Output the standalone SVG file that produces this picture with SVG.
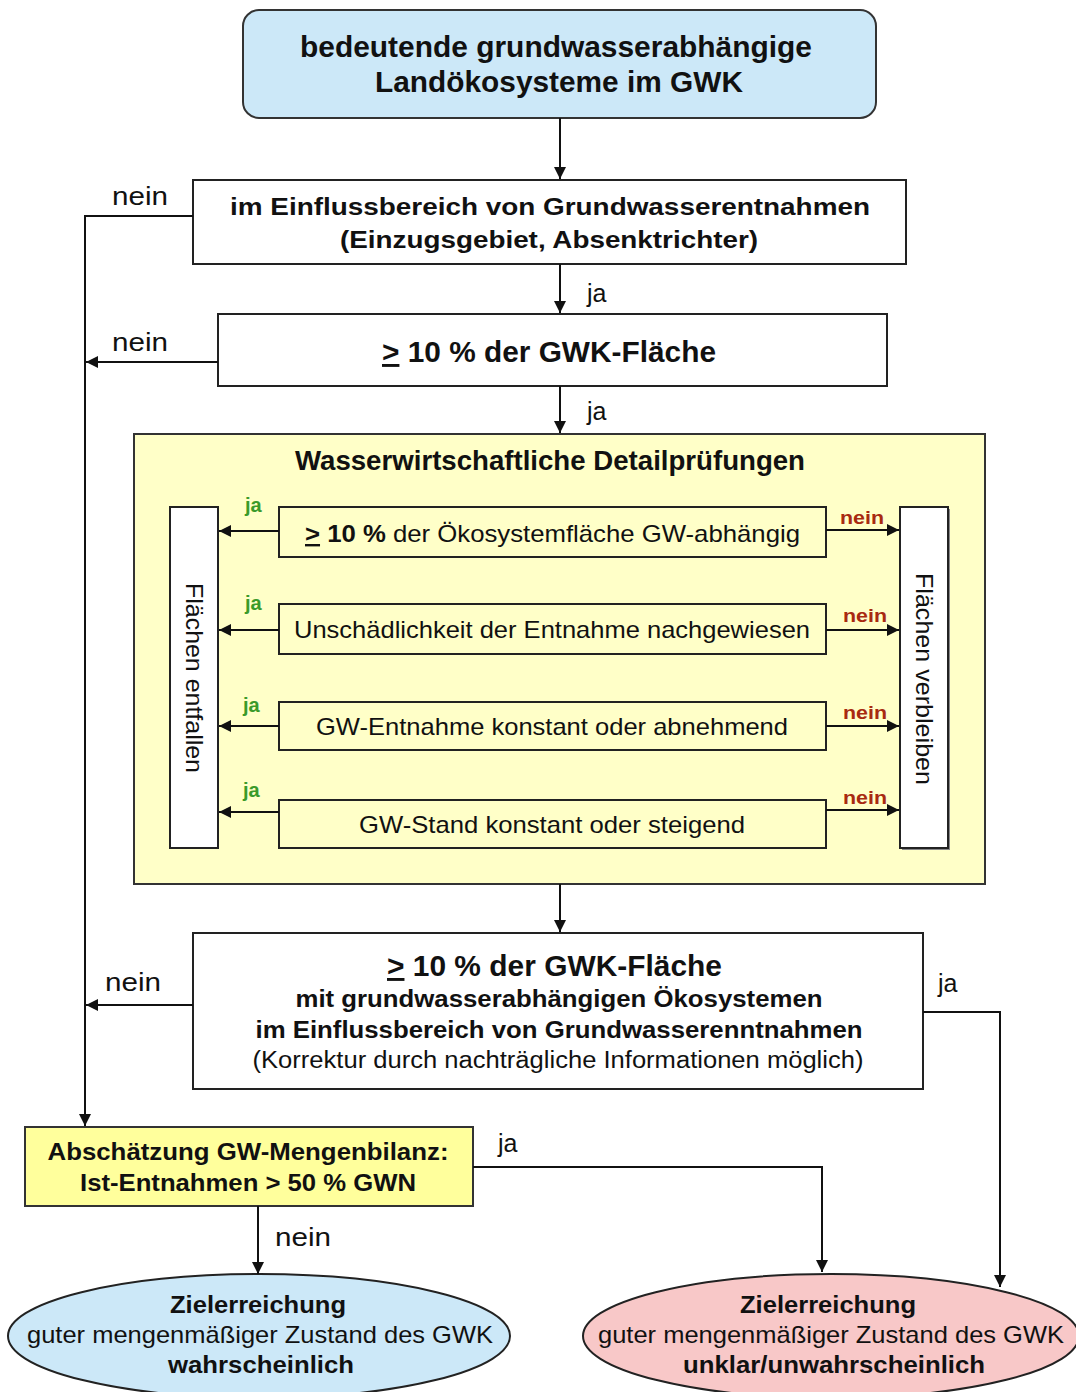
<svg xmlns="http://www.w3.org/2000/svg" width="1076" height="1392" viewBox="0 0 1076 1392">
<defs>
<marker id="ah" viewBox="0 0 10 10" refX="10" refY="5" markerWidth="12" markerHeight="12" markerUnits="userSpaceOnUse" orient="auto">
<path d="M0,0 L10,5 L0,10 Z" fill="#111"/>
</marker>
</defs>
<style>
text{font-family:"Liberation Sans",Arial,sans-serif;fill:#111;}
.b{font-weight:bold;}
.box{fill:#fff;stroke:#222;stroke-width:2;}
.ybox{fill:#ffffc8;stroke:#222;stroke-width:2;}
.c{fill:none;stroke:#111;stroke-width:2;}
.ja{fill:#3a9a2a;font-weight:bold;font-size:20px;}
.nein{fill:#a82a10;font-weight:bold;font-size:19px;}
.lbl{font-size:25px;}
</style>
<rect width="1076" height="1392" fill="#fff"/>

<g id="start">
<rect x="243" y="10" width="633" height="108" rx="16" fill="#cce8f8" stroke="#333" stroke-width="2"/>
<text class="b" x="556" y="57" font-size="29" text-anchor="middle" textLength="512" lengthAdjust="spacingAndGlyphs">bedeutende grundwasserabhängige</text>
<text class="b" x="559" y="92" font-size="29" text-anchor="middle" textLength="368" lengthAdjust="spacingAndGlyphs">Landökosysteme im GWK</text>
</g>

<g id="einfluss">
<rect class="box" x="193" y="180" width="713" height="84"/>
<text class="b" x="550" y="215" font-size="23" text-anchor="middle" textLength="640" lengthAdjust="spacingAndGlyphs">im Einflussbereich von Grundwasserentnahmen</text>
<text class="b" x="549" y="248" font-size="23" text-anchor="middle" textLength="418" lengthAdjust="spacingAndGlyphs">(Einzugsgebiet, Absenktrichter)</text>
</g>

<g id="gwk1">
<rect class="box" x="218" y="314" width="669" height="72"/>
<text class="b" x="382" y="362" font-size="29" textLength="334" lengthAdjust="spacingAndGlyphs"><tspan text-decoration="underline">&gt;</tspan> 10 % der GWK-Fläche</text>
</g>

<g id="detail">
<rect x="134" y="434" width="851" height="450" fill="#ffffc8" stroke="#333" stroke-width="2"/>
<text class="b" x="550" y="470" font-size="28" text-anchor="middle" textLength="510" lengthAdjust="spacingAndGlyphs">Wasserwirtschaftliche Detailprüfungen</text>
</g>

<g id="entfallen">
<rect class="box" x="170" y="507" width="48" height="341"/>
<text x="194" y="678" font-size="24" text-anchor="middle" transform="rotate(90 194 678)" dy="8" textLength="190" lengthAdjust="spacingAndGlyphs">Flächen entfallen</text>
</g>

<g id="verbleiben">
<rect x="902" y="509" width="48" height="341" fill="#888"/>
<rect class="box" x="900" y="507" width="48" height="341"/>
<text x="924" y="679" font-size="24" text-anchor="middle" transform="rotate(90 924 679)" dy="8" textLength="212" lengthAdjust="spacingAndGlyphs">Flächen verbleiben</text>
</g>

<g id="check1">
<rect class="ybox" x="279" y="507" width="547" height="50"/>
<text x="305" y="542" font-size="24" textLength="495" lengthAdjust="spacingAndGlyphs"><tspan font-weight="bold"><tspan text-decoration="underline">&gt;</tspan> 10 %</tspan> der Ökosystemfläche GW-abhängig</text>
</g>
<g id="check2">
<rect class="ybox" x="279" y="604" width="547" height="50"/>
<text x="552" y="638" font-size="24" text-anchor="middle" textLength="516" lengthAdjust="spacingAndGlyphs">Unschädlichkeit der Entnahme nachgewiesen</text>
</g>
<g id="check3">
<rect class="ybox" x="279" y="702" width="547" height="48"/>
<text x="552" y="735" font-size="24" text-anchor="middle" textLength="472" lengthAdjust="spacingAndGlyphs">GW-Entnahme konstant oder abnehmend</text>
</g>
<g id="check4">
<rect class="ybox" x="279" y="800" width="547" height="48"/>
<text x="552" y="833" font-size="24" text-anchor="middle" textLength="386" lengthAdjust="spacingAndGlyphs">GW-Stand konstant oder steigend</text>
</g>

<g id="gwk2">
<rect class="box" x="193" y="933" width="730" height="156"/>
<text class="b" x="387" y="976" font-size="29" textLength="335" lengthAdjust="spacingAndGlyphs"><tspan text-decoration="underline">&gt;</tspan> 10 % der GWK-Fläche</text>
<text class="b" x="559" y="1007" font-size="23" text-anchor="middle" textLength="527" lengthAdjust="spacingAndGlyphs">mit grundwasserabhängigen Ökosystemen</text>
<text class="b" x="559" y="1038" font-size="23" text-anchor="middle" textLength="607" lengthAdjust="spacingAndGlyphs">im Einflussbereich von Grundwasserenntnahmen</text>
<text x="558" y="1068" font-size="23" text-anchor="middle" textLength="611" lengthAdjust="spacingAndGlyphs">(Korrektur durch nachträgliche Informationen möglich)</text>
</g>

<g id="bilanz">
<rect x="25" y="1127" width="448" height="79" fill="#ffff9c" stroke="#333" stroke-width="2"/>
<text class="b" x="248" y="1160" font-size="24" text-anchor="middle" textLength="401" lengthAdjust="spacingAndGlyphs">Abschätzung GW-Mengenbilanz:</text>
<text class="b" x="248" y="1191" font-size="24" text-anchor="middle" textLength="336" lengthAdjust="spacingAndGlyphs">Ist-Entnahmen &gt; 50 % GWN</text>
</g>

<g id="ziel-gut">
<ellipse cx="259" cy="1336" rx="251" ry="62" fill="#cce8f8" stroke="#222" stroke-width="2"/>
<text class="b" x="258" y="1313" font-size="24" text-anchor="middle" textLength="176" lengthAdjust="spacingAndGlyphs">Zielerreichung</text>
<text x="260" y="1343" font-size="24" text-anchor="middle" textLength="466" lengthAdjust="spacingAndGlyphs">guter mengenmäßiger Zustand des GWK</text>
<text class="b" x="261" y="1373" font-size="24" text-anchor="middle" textLength="186" lengthAdjust="spacingAndGlyphs">wahrscheinlich</text>
</g>

<g id="ziel-unklar">
<ellipse cx="831" cy="1336" rx="248" ry="62" fill="#f8c8c8" stroke="#222" stroke-width="2"/>
<text class="b" x="828" y="1313" font-size="24" text-anchor="middle" textLength="176" lengthAdjust="spacingAndGlyphs">Zielerreichung</text>
<text x="831" y="1343" font-size="24" text-anchor="middle" textLength="466" lengthAdjust="spacingAndGlyphs">guter mengenmäßiger Zustand des GWK</text>
<text class="b" x="834" y="1373" font-size="24" text-anchor="middle" textLength="302" lengthAdjust="spacingAndGlyphs">unklar/unwahrscheinlich</text>
</g>

<g id="connectors">
<line class="c" x1="560" y1="118" x2="560" y2="179" marker-end="url(#ah)"/>
<line class="c" x1="560" y1="264" x2="560" y2="313" marker-end="url(#ah)"/>
<line class="c" x1="560" y1="386" x2="560" y2="433" marker-end="url(#ah)"/>
<line class="c" x1="560" y1="884" x2="560" y2="932" marker-end="url(#ah)"/>
<path class="c" d="M193,216 H85 V1126" marker-end="url(#ah)"/>
<line class="c" x1="218" y1="362" x2="86" y2="362" marker-end="url(#ah)"/>
<line class="c" x1="193" y1="1005" x2="86" y2="1005" marker-end="url(#ah)"/>
<path class="c" d="M923,1012 H1000 V1287" marker-end="url(#ah)"/>
<path class="c" d="M473,1167 H822 V1272" marker-end="url(#ah)"/>
<line class="c" x1="258" y1="1206" x2="258" y2="1274" marker-end="url(#ah)"/>
<line class="c" x1="279" y1="531" x2="219" y2="531" marker-end="url(#ah)"/>
<line class="c" x1="279" y1="630" x2="219" y2="630" marker-end="url(#ah)"/>
<line class="c" x1="279" y1="726" x2="219" y2="726" marker-end="url(#ah)"/>
<line class="c" x1="279" y1="812" x2="219" y2="812" marker-end="url(#ah)"/>
<line class="c" x1="826" y1="530" x2="899" y2="530" marker-end="url(#ah)"/>
<line class="c" x1="826" y1="630" x2="899" y2="630" marker-end="url(#ah)"/>
<line class="c" x1="826" y1="726" x2="899" y2="726" marker-end="url(#ah)"/>
<line class="c" x1="826" y1="810" x2="899" y2="810" marker-end="url(#ah)"/>
<text class="lbl" x="112" y="205" textLength="56" lengthAdjust="spacingAndGlyphs">nein</text>
<text class="lbl" x="112" y="351" textLength="56" lengthAdjust="spacingAndGlyphs">nein</text>
<text class="lbl" x="105" y="991" textLength="56" lengthAdjust="spacingAndGlyphs">nein</text>
<text class="lbl" x="275" y="1246" textLength="56" lengthAdjust="spacingAndGlyphs">nein</text>
<text class="lbl" x="587" y="302">ja</text>
<text class="lbl" x="587" y="420">ja</text>
<text class="lbl" x="938" y="992">ja</text>
<text class="lbl" x="498" y="1152">ja</text>
<text class="ja" x="245" y="512">ja</text>
<text class="ja" x="245" y="610">ja</text>
<text class="ja" x="243" y="712">ja</text>
<text class="ja" x="243" y="797">ja</text>
<text class="nein" x="840" y="524" textLength="44" lengthAdjust="spacingAndGlyphs">nein</text>
<text class="nein" x="843" y="622" textLength="44" lengthAdjust="spacingAndGlyphs">nein</text>
<text class="nein" x="843" y="719" textLength="44" lengthAdjust="spacingAndGlyphs">nein</text>
<text class="nein" x="843" y="804" textLength="44" lengthAdjust="spacingAndGlyphs">nein</text>
</g>
</svg>
